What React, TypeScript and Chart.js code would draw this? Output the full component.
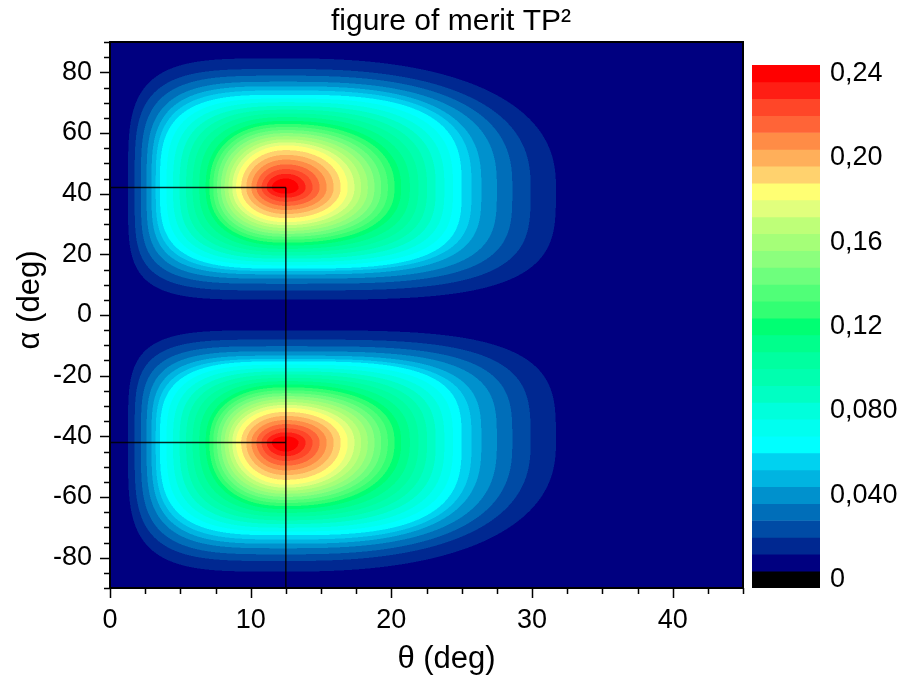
import { useEffect, useRef } from "react";
import { Chart, registerables } from "chart.js";

Chart.register(...registerables);

const FONT = "'Liberation Sans', Arial, Helvetica, sans-serif";

const chartTitle = "figure of merit TP²";
const xAxisTitle = "θ (deg)";
const yAxisTitle = "α (deg)";

const thetaRange = [0, 45];
const alphaRange = [-90, 90];
const xTickValues = [0, 10, 20, 30, 40];
const yTickValues = [-80, -60, -40, -20, 0, 20, 40, 60, 80];
const xMinorStep = 2.5;
const yMinorStep = 5;

// optimum (maximum of TP²), marked by the guide lines; the surface is mirror-symmetric in α
const optimumTheta = 12.5;
const optimumAlpha = 42;
const peakValue = 0.241;

// contour lines of TP² around each optimum: level, and where each level crosses
// the θ axis (left / right of the optimum) and the α axis (towards α = 0 / towards |α| = 90)
const tp2Levels = [0.008, 0.016, 0.024, 0.032, 0.04, 0.048, 0.056, 0.112, 0.176, 0.232];
const levelLeftTheta = [1.28, 1.75, 2.2, 2.6, 2.95, 3.25, 3.55, 6.8, 8.96, 11.5];
const levelRightTheta = [31.7, 29.9, 28.6, 27.5, 26.4, 25.7, 25.0, 20.7, 16.9, 13.4];
const levelInnerAlpha = [5.05, 8.1, 10.3, 12.0, 13.4, 14.5, 15.3, 22.9, 30.6, 40.0];
const levelOuterAlpha = [84.6, 81.1, 78.9, 76.9, 75.4, 74.0, 72.6, 64.0, 55.9, 45.0];
// squareness of each contour in its four quadrants (2 = elliptic, larger = boxier)
const shapeLeftInner = [4.5, 4.3, 4.1, 3.9, 3.7, 3.5, 3.3, 2.4, 2.1, 2];
const shapeRightInner = [3.6, 3.6, 3.55, 3.5, 3.45, 3.4, 3.4, 2.4, 2.1, 2];
const shapeLeftOuter = [4.0, 3.9, 3.75, 3.6, 3.5, 3.4, 3.3, 2.4, 2.1, 2];
const shapeRightOuter = [2.4, 2.5, 2.6, 2.7, 2.8, 2.9, 3.0, 2.3, 2.1, 2];

// fill bands of width 0.008 from 0 up to 0.24
const levelStep = 0.008;
const levelColors = [
  "#000080", "#002891", "#004ba5", "#006eb9", "#0091cd", "#00b4e1", "#00d2f0", "#00ffff",
  "#00fff0", "#00ffdc", "#00ffc3", "#00ffaf", "#00ffa0", "#00ff8c", "#00ff73", "#32ff73",
  "#50ff78", "#6eff7d", "#8cff7d", "#a5ff78", "#beff78", "#e1ff7d", "#ffff73", "#ffd26e",
  "#ffaf5a", "#ff8c46", "#ff6437", "#ff4628", "#ff1e14", "#ff0000",
];
const belowRangeColor = "#000000";

const colorbarTickValues = [0, 0.04, 0.08, 0.12, 0.16, 0.2, 0.24];
const colorbarTickLabels = ["0", "0,040", "0,080", "0,12", "0,16", "0,20", "0,24"];

function hexToRgb(hex: string): number[] {
  const n = parseInt(hex.slice(1), 16);
  return [(n >> 16) & 255, (n >> 8) & 255, n & 255];
}

// TP² at (θ, |α|): the point is placed between the two contours that enclose it,
// measuring along the ray from the optimum
function tp2At(theta: number, a: number): number {
  const dt = theta - optimumTheta;
  const da = a - optimumAlpha;
  const left = dt < 0;
  const inner = da < 0;
  const at = Math.abs(dt);
  const aa = Math.abs(da);
  let prevRho = 0;
  for (let i = 0; i < tp2Levels.length; i++) {
    const sT = left ? optimumTheta - levelLeftTheta[i] : levelRightTheta[i] - optimumTheta;
    const sA = inner ? optimumAlpha - levelInnerAlpha[i] : levelOuterAlpha[i] - optimumAlpha;
    const p = left
      ? inner ? shapeLeftInner[i] : shapeLeftOuter[i]
      : inner ? shapeRightInner[i] : shapeRightOuter[i];
    const rho = Math.pow(Math.pow(at / sT, p) + Math.pow(aa / sA, p), 1 / p);
    if (rho > 1) {
      if (i === 0) return tp2Levels[0] / rho;
      const dPrev = 1 / prevRho;
      const dCur = 1 / rho;
      const f = (dPrev - 1) / (dPrev - dCur);
      return tp2Levels[i - 1] + (tp2Levels[i] - tp2Levels[i - 1]) * f;
    }
    prevRho = rho;
  }
  const last = tp2Levels[tp2Levels.length - 1];
  return peakValue - (peakValue - last) * prevRho * prevRho;
}

// paints the filled contour map into the chart area, pixel by pixel through the scales
function buildFieldImage(chart: any): { canvas: HTMLCanvasElement; x0: number; y0: number } {
  const area = chart.chartArea;
  const x0 = Math.round(area.left);
  const y0 = Math.round(area.top);
  const w = Math.round(area.right) - x0;
  const h = Math.round(area.bottom) - y0;
  const xs = chart.scales.x;
  const ys = chart.scales.y;
  const palette = levelColors.map(hexToRgb);
  const SS = 2;
  const acc = new Float32Array(w * h * 3);

  const alphas: number[] = [];
  for (let sy = 0; sy < h * SS; sy++) {
    alphas.push(Math.min(90, Math.abs(ys.getValueForPixel(y0 + (sy + 0.5) / SS))));
  }
  for (let sx = 0; sx < w * SS; sx++) {
    const theta = Math.min(thetaRange[1], Math.max(thetaRange[0], xs.getValueForPixel(x0 + (sx + 0.5) / SS)));
    const ix = Math.floor(sx / SS);
    for (let sy = 0; sy < h * SS; sy++) {
      const v = tp2At(theta, alphas[sy]);
      let k = Math.floor(v / levelStep);
      if (k < 0) k = 0;
      if (k > palette.length - 1) k = palette.length - 1;
      const c = palette[k];
      const o = (Math.floor(sy / SS) * w + ix) * 3;
      acc[o] += c[0];
      acc[o + 1] += c[1];
      acc[o + 2] += c[2];
    }
  }

  const canvas = document.createElement("canvas");
  canvas.width = w;
  canvas.height = h;
  const cctx = canvas.getContext("2d")!;
  const img = cctx.createImageData(w, h);
  const norm = 1 / (SS * SS);
  for (let i = 0; i < w * h; i++) {
    img.data[i * 4] = Math.round(acc[i * 3] * norm);
    img.data[i * 4 + 1] = Math.round(acc[i * 3 + 1] * norm);
    img.data[i * 4 + 2] = Math.round(acc[i * 3 + 2] * norm);
    img.data[i * 4 + 3] = 255;
  }
  cctx.putImageData(img, 0, 0);
  return { canvas, x0, y0 };
}

const fieldPlugin = {
  id: "tp2Field",
  beforeDatasetsDraw(chart: any) {
    const { canvas, x0, y0 } = buildFieldImage(chart);
    chart.ctx.drawImage(canvas, x0, y0);
  },
};

const framePlugin = {
  id: "frameAndTitles",
  afterDraw(chart: any) {
    const ctx = chart.ctx;
    const { left, right, top, bottom } = chart.chartArea;
    const xs = chart.scales.x;
    const ys = chart.scales.y;
    ctx.save();
    ctx.strokeStyle = "#000";
    ctx.lineWidth = 1.5;
    ctx.beginPath();
    for (let t = thetaRange[0]; t <= thetaRange[1] + 1e-9; t += xMinorStep) {
      const px = Math.round(xs.getPixelForValue(t)) + 0.5;
      const len = xTickValues.includes(t) ? 10 : 6;
      ctx.moveTo(px, bottom);
      ctx.lineTo(px, bottom + len);
    }
    for (let a = alphaRange[0]; a <= alphaRange[1] + 1e-9; a += yMinorStep) {
      const py = Math.round(ys.getPixelForValue(a)) + 0.5;
      const len = yTickValues.includes(a) ? 10 : 6;
      ctx.moveTo(left - len, py);
      ctx.lineTo(left, py);
    }
    ctx.stroke();
    ctx.lineWidth = 2;
    ctx.strokeRect(left, top, right - left, bottom - top);

    ctx.fillStyle = "#000";
    ctx.textAlign = "center";
    ctx.textBaseline = "middle";
    ctx.font = `30px ${FONT}`;
    ctx.fillText(chartTitle, chart.width / 2, 22);
    ctx.font = `31px ${FONT}`;
    ctx.fillText(xAxisTitle, (left + right) / 2 + 20, bottom + 71);
    ctx.translate(left - 80, (top + bottom) / 2 - 15);
    ctx.rotate(-Math.PI / 2);
    ctx.fillText(yAxisTitle, 0, 0);
    ctx.restore();
  },
};

const guideLines = [
  [{ x: thetaRange[0], y: optimumAlpha }, { x: optimumTheta, y: optimumAlpha }],
  [{ x: thetaRange[0], y: -optimumAlpha }, { x: optimumTheta, y: -optimumAlpha }],
  [{ x: optimumTheta, y: optimumAlpha }, { x: optimumTheta, y: alphaRange[0] }],
];

const bandValues = levelColors.map((_, i) => i * levelStep);
bandValues.push(levelColors.length * levelStep);
const bandColors = [belowRangeColor, ...levelColors];

function colorbarLabel(index: number): string {
  const v = index * levelStep;
  const j = colorbarTickValues.findIndex((t) => Math.abs(t - v) < 1e-9);
  return j >= 0 ? colorbarTickLabels[j] : "";
}

export default function App() {
  const mainRef = useRef<HTMLCanvasElement>(null);
  const barRef = useRef<HTMLCanvasElement>(null);

  useEffect(() => {
    const tickFont = { family: FONT, size: 27 };
    const main = new Chart(mainRef.current!, {
      type: "scatter",
      data: {
        datasets: guideLines.map((pts) => ({
          data: pts,
          showLine: true,
          borderColor: "rgba(0,0,0,0.85)",
          borderWidth: 1.5,
          pointRadius: 0,
          fill: false,
        })),
      },
      options: {
        animation: false,
        responsive: true,
        maintainAspectRatio: false,
        devicePixelRatio: 1,
        events: [],
        layout: { padding: { left: 0, top: 42, right: 159, bottom: 0 } },
        plugins: { legend: { display: false }, tooltip: { enabled: false }, title: { display: false } },
        scales: {
          x: {
            type: "linear",
            min: thetaRange[0],
            max: thetaRange[1],
            grid: { display: false, drawTicks: false },
            border: { display: false },
            afterBuildTicks: (s: any) => {
              s.ticks = xTickValues.map((v) => ({ value: v }));
            },
            afterFit: (s: any) => {
              s.height = 90;
            },
            ticks: {
              font: tickFont,
              color: "#000",
              padding: 16,
              maxRotation: 0,
              autoSkip: false,
              callback: (v: any) => String(v),
            },
          },
          y: {
            type: "linear",
            min: alphaRange[0],
            max: alphaRange[1],
            grid: { display: false, drawTicks: false },
            border: { display: false },
            afterBuildTicks: (s: any) => {
              s.ticks = yTickValues.map((v) => ({ value: v }));
            },
            afterFit: (s: any) => {
              s.width = 110;
            },
            ticks: {
              font: tickFont,
              color: "#000",
              padding: 18,
              autoSkip: false,
              callback: (v: any) => String(v),
            },
          },
        },
      },
      plugins: [fieldPlugin, framePlugin],
    } as any);

    const bar = new Chart(barRef.current!, {
      type: "bar",
      data: {
        labels: bandValues.map((v) => v.toFixed(3)),
        datasets: [
          {
            data: bandValues.map(() => 1),
            backgroundColor: bandColors,
            borderWidth: 0,
            barPercentage: 1,
            categoryPercentage: 1,
          },
        ],
      },
      options: {
        indexAxis: "y",
        animation: false,
        responsive: true,
        maintainAspectRatio: false,
        devicePixelRatio: 1,
        events: [],
        layout: { padding: { left: 12, top: 65, right: 0, bottom: 90 } },
        plugins: { legend: { display: false }, tooltip: { enabled: false } },
        scales: {
          x: { type: "linear", min: 0, max: 1, display: false },
          y: {
            type: "category",
            position: "right",
            reverse: true,
            grid: { display: false, drawTicks: false },
            border: { display: false },
            afterFit: (s: any) => {
              s.width = 82;
            },
            ticks: {
              autoSkip: false,
              padding: 10,
              font: tickFont,
              color: "#000",
              callback: (_v: any, index: number) => colorbarLabel(index),
            },
          },
        },
      },
    } as any);

    return () => {
      main.destroy();
      bar.destroy();
    };
  }, []);

  return (
    <div style={{ position: "fixed", left: 0, top: 0, width: 902, height: 678, background: "#fff" }}>
      <div style={{ position: "absolute", left: 0, top: 0, width: 902, height: 678 }}>
        <canvas ref={mainRef} />
      </div>
      <div style={{ position: "absolute", left: 740, top: 0, width: 162, height: 678 }}>
        <canvas ref={barRef} />
      </div>
    </div>
  );
}
